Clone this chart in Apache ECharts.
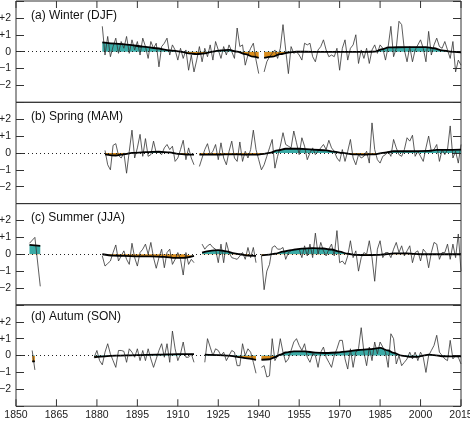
<!DOCTYPE html>
<html>
<head>
<meta charset="utf-8">
<script src="https://cdn.jsdelivr.net/npm/echarts@6/dist/echarts.min.js"></script>
<style>
  html, body { margin: 0; padding: 0; background: #fff; }
  #chart { width: 470px; height: 421px; }
</style>
</head>
<body>
<div id="chart"></div>
<script>
// tick labels
const xTicks = [1850, 1865, 1880, 1895, 1910, 1925, 1940, 1955, 1970, 1985, 2000, 2015]
const titles = ['(a) Winter (DJF)', '(b) Spring (MAM)', '(c) Summer (JJA)', '(d) Autum (SON)']

// annual anomalies, one row per decade, null = missing year
const winterStart = 1880
const winterVals = [
  null, null, 1.5, -0.2, 0.9, -0.3, 0.3, 0.8, -0.1, 0.6,
  0.2, 0.9, -0.1, 0.7, 0.1, 0.6, -0.2, 0.8, 0.3, -0.4,
  0.6, 0.2, 0.5, -0.9, 0.3, 0.5, 0.8, -0.2, 0.4, 0.1,
  -0.5, 0.2, -0.4, 0.1, -1.1, -0.2, -1.2, -0.5, 0.3, -0.6,
  0.2, -0.3, 0.4, -0.5, 0.6, 0.1, -0.4, 0.3, -0.2, 0.4,
  0.0, -0.4, 1.4, 0.3, 0.4, -0.8, -0.2, 0.2, 0.5, -0.5,
  -1.3, null, -1.2, -0.6, -0.3, -0.1, 0.1, -0.4, 0.2, 1.6,
  0.1, -1.3, 0.3, -0.1, 0.0, -0.2, -0.5, 0.5, 0.4, 0.5,
  -0.3, -0.6, 0.1, 0.3, 0.7, 0.1, -0.3, -0.2, -0.3, 0.2,
  -1.1, 0.2, 0.7, -0.5, 0.2, 0.4, 1.0, -0.7, 0.1, -0.4,
  0.2, -0.7, 0.1, 0.4, -0.1, 0.4, 0.2, -0.5, 0.3, 1.5,
  -0.3, 0.2, 1.8, 1.6, 0.1, -0.6, 0.3, -0.6, 0.1, 0.4,
  0.7, 0.2, -0.6, 1.2, -0.2, 0.4, 0.8, 0.3, 0.2, 0.6,
  0.1, -0.4, 0.6, -1.2, -0.5, -0.8,
]
const winterSmoothYears = [1882, 1887, 1892, 1897, 1902, 1907, 1911, 1914, 1917, 1920, 1923, 1926, 1929, 1932, 1935, 1938, 1940, 1941, 1942, 1945, 1948, 1951, 1954, 1960, 1970, 1980, 1983, 1986, 1988, 1995, 2002, 2005, 2008, 2011, 2015]
const winterSmoothVals = [0.55, 0.48, 0.4, 0.3, 0.2, 0.08, 0.0, -0.1, -0.15, -0.1, 0.0, 0.08, 0.1, 0.0, -0.15, -0.3, -0.37, null, -0.37, -0.3, -0.15, -0.05, 0.0, -0.01, -0.01, -0.01, 0.0, 0.15, 0.25, 0.27, 0.27, 0.2, 0.08, 0.0, -0.04]

const springStart = 1880
const springVals = [
  null, null, null, 0.15, -0.7, -1.0, 0.45, 0.55, -0.15, -0.3,
  0.0, -1.2, 0.1, 1.35, -0.3, 0.3, 1.1, -0.2, 0.85, -0.2,
  -0.1, 0.7, 0.0, 0.05, -0.1, 0.3, 0.5, 0.2, 0.4, -0.5,
  -0.3, 0.2, 0.75, -0.4, 0.3, -0.3, -0.7, null, -0.8, -0.3,
  0.2, 0.55, -0.1, 0.1, 0.5, -0.4, 0.6, -0.3, -0.7, 0.1,
  0.7, -0.3, -0.5, 0.65, -0.5, 0.1, -0.3, 0.2, 1.35, 0.2,
  -0.4, -1.0, -0.7, -0.2, 0.3, 0.8, -0.9, -0.2, 0.4, 1.2,
  0.5, 0.4, 0.3, 1.3, 0.6, -0.1, 0.9, 0.4, -0.4, 0.0,
  0.3, -0.1, 0.1, 0.3, 0.5, 0.2, 0.75, 0.3, 0.1, -0.3,
  -0.5, 0.2, -0.5, 0.1, 0.8, -0.3, -0.7, -0.1, -0.3, -0.2,
  0.1, -0.6, 1.78, 0.2, -0.4, -0.6, -0.2, -0.1, 0.1, -0.2,
  0.8, 0.3, -0.1, -0.2, 0.2, 0.9, 0.7, 1.05, -0.2, 0.1,
  -0.2, -0.5, 0.3, 1.0, 0.1, 0.2, 0.5, -0.5, 0.2, -0.1,
  0.2, 1.6, -0.3, 0.1, -0.6, 0.5,
]
const springSmoothYears = [1883, 1887, 1890, 1893, 1898, 1903, 1907, 1910, 1913, 1916, 1917, 1918, 1925, 1930, 1935, 1940, 1942, 1944, 1947, 1950, 1955, 1960, 1965, 1968, 1971, 1975, 1979, 1983, 1986, 1990, 1995, 2003, 2006, 2015]
const springSmoothVals = [-0.08, -0.15, -0.08, 0.0, 0.05, 0.07, 0.03, -0.05, -0.1, -0.1, null, -0.1, -0.1, -0.08, -0.1, -0.1, -0.05, 0.0, 0.15, 0.25, 0.25, 0.2, 0.15, 0.08, 0.0, -0.08, -0.1, -0.08, 0.0, 0.1, 0.1, 0.12, 0.18, 0.2]

const summerEarlyYears = [1855, 1857, 1859]
const summerEarlyVals = [0.65, 1.0, -1.9]
const summerEarlySmoothYears = [1855, 1859]
const summerEarlySmoothVals = [0.55, 0.5]
const summerStart = 1880
const summerVals = [
  null, null, -0.1, -0.7, -0.55, -0.4, 0.1, 0.55, -0.4, -0.1,
  0.2, -0.3, -0.6, 0.65, -0.2, -0.7, 0.1, 0.3, 0.6, 0.0,
  0.7, -0.2, -0.83, -0.2, 0.3, -0.8, 0.1, 0.3, -0.6, -0.3,
  0.1, -0.3, -1.23, 0.1, -0.6, -0.3, -0.5, null, null, 0.6,
  0.3, 0.5, 0.6, 0.4, 0.3, -0.5, 0.6, -0.5, 0.7, 0.1,
  -0.2, -0.25, -0.3, -0.1, 0.1, -0.3, 0.4, -0.2, 0.4, -0.5,
  null, -0.1, -2.1, -1.0, -0.6, 0.4, 0.5, 0.3, 0.3, 0.4,
  -0.3, 0.1, 0.2, 0.3, 0.3, 0.3, -0.2, 0.5, -0.1, 0.6,
  -0.2, 1.25, 0.0, 0.7, 0.2, -0.1, 0.3, 0.6, -0.1, 1.4,
  -0.5, -0.4, -0.6, -0.1, 0.8, -0.2, 0.2, -1.0, -0.2, 0.1,
  0.0, 0.8, -0.2, -1.6, 0.3, 0.8, -0.2, 0.1, 0.1, -0.2,
  0.3, 0.7, 0.1, 0.5, -0.1, 0.2, 0.5, -0.5, 0.1, 0.2,
  -0.4, 0.3, 0.1, -0.8, 0.1, 0.7, 0.6, -0.3, 0.1, 0.1,
  0.6, -0.3, 0.6, -0.2, 1.2, -1.0,
]
const summerSmoothYears = [1882, 1886, 1890, 1895, 1900, 1905, 1909, 1912, 1916, 1917, 1919, 1922, 1925, 1928, 1931, 1933, 1936, 1939, 1940, 1941, 1944, 1946, 1949, 1952, 1956, 1960, 1964, 1967, 1970, 1973, 1976, 1980, 1984, 1987, 1990, 1995, 2000, 2015]
const summerSmoothVals = [0.0, -0.08, -0.1, -0.12, -0.13, -0.15, -0.22, -0.22, -0.1, null, 0.1, 0.2, 0.25, 0.17, 0.05, 0.0, -0.08, -0.1, null, -0.07, -0.02, 0.03, 0.15, 0.25, 0.33, 0.36, 0.34, 0.28, 0.15, 0.03, -0.04, -0.05, -0.04, 0.0, 0.05, 0.05, 0.0, 0.0]

const autumnEarlyYears = [1856, 1857]
const autumnEarlyVals = [0.3, -0.85]
const autumnEarlySmoothYears = [1856, 1857]
const autumnEarlySmoothVals = [-0.35, -0.35]
const autumnStart = 1870
const autumnVals = [
  null, null, null, null, null, null, null, null, null, -0.1,
  0.3, -0.3, -0.55, 0.2, 0.7, 0.1, -0.3, -0.7, 0.3, 0.3,
  0.25, -0.4, 0.4, 0.2, -0.1, 0.4, -0.3, 0.3, -0.3, 0.4,
  -0.2, -0.7, -0.2, 0.3, 0.7, -0.1, 0.7, -0.4, 1.45, 0.4,
  -0.3, 0.1, 0.8, -0.1, -0.1, 0.1, -0.4, null, null, null,
  -0.4, 1.0, 0.5, 0.0, 0.4, 0.3, 0.0, 0.2, -0.3, 0.0,
  0.3, 0.2, -0.6, -0.6, 0.7, 0.0, 0.4, 0.2, -0.4, -1.05,
  null, -0.7, -0.6, -1.27, -1.2, 1.0, -0.3, 0.0, 1.0, 0.2,
  -0.4, -0.2, 0.3, 0.8, 1.0, 0.6, 0.3, 0.7, -0.1, -0.4,
  0.1, 0.0, -0.7, 0.2, 0.5, -0.1, -0.4, -0.7, 0.0, 0.4,
  0.9, 0.9, -0.2, -0.8, 0.4, -0.7, 0.2, 0.4, 1.65, 0.2,
  -0.6, 0.5, -0.3, 0.8, 0.1, 0.8, 0.5, 0.2, -0.7, 1.29,
  1.0, -0.5, 0.0, -0.6, -0.4, -0.2, 0.2, -0.2, 0.2, -0.3,
  0.2, -0.1, -1.0, 0.0, 0.3, 0.6, 1.2, 0.2, 0.0, -0.2,
  -0.3, 0.9, -0.2, 0.0, -0.1, -0.5,
]
const autumnSmoothYears = [1879, 1883, 1887, 1895, 1902, 1910, 1916, 1917, 1920, 1925, 1929, 1932, 1935, 1939, 1940, 1941, 1944, 1946, 1948, 1950, 1953, 1957, 1961, 1965, 1969, 1973, 1977, 1981, 1985, 1988, 1990, 1993, 1996, 1999, 2001, 2003, 2005, 2008, 2015]
const autumnSmoothVals = [-0.1, -0.05, 0.0, 0.03, 0.05, 0.08, 0.08, null, 0.05, 0.03, 0.0, -0.08, -0.15, -0.25, null, -0.25, -0.22, -0.1, 0.05, 0.18, 0.25, 0.25, 0.17, 0.15, 0.18, 0.25, 0.33, 0.38, 0.45, 0.3, 0.16, 0.0, -0.08, -0.08, 0.0, 0.05, 0.02, -0.04, -0.05]

const TEAL = '#3aaba6'
const ORANGE = '#d88c1c'
const numFont = "'Liberation Sans Narrow', 'Liberation Sans', Arial, sans-serif"
const textFont = "'Liberation Sans', Arial, sans-serif"

function annual(start, vals) {
  return vals.map((v, i) => [start + i, v])
}
function pairs(years, vals) {
  return years.map((y, i) => [y, vals[i]])
}

const panels = [
  { raw: annual(winterStart, winterVals), smooth: pairs(winterSmoothYears, winterSmoothVals) },
  { raw: annual(springStart, springVals), smooth: pairs(springSmoothYears, springSmoothVals) },
  {
    raw: pairs(summerEarlyYears, summerEarlyVals).concat(annual(summerStart, summerVals)),
    smooth: pairs(summerEarlySmoothYears, summerEarlySmoothVals).concat([[1860, null]], pairs(summerSmoothYears, summerSmoothVals)),
  },
  {
    raw: pairs(autumnEarlyYears, autumnEarlyVals).concat(annual(autumnStart, autumnVals)),
    smooth: pairs(autumnEarlySmoothYears, autumnEarlySmoothVals).concat([[1858, null]], pairs(autumnSmoothYears, autumnSmoothVals)),
  },
]

const gridTops = [1, 102.3, 203.6, 304.9]
const gridH = 101.3
const titleTops = [10, 111, 212, 311]

var myChart = echarts.init(document.getElementById('chart'))

let grids = [], xAxes = [], yAxes = [], series = [], titleList = [], areaIdx = []

function yLabel(v) {
  if (v === 3 || v === -3) return ''
  if (v > 0) return '+' + v
  if (v < 0) return '\u2212' + (-v)
  return '0'
}

// inward x ticks on the top frame (panel a) and bottom frame (panel d),
// drawn as thin rect symbols placed on the frame through the axes
function edgeTicks(i, edge, dir) {
  return {
    type: 'scatter', xAxisIndex: i, yAxisIndex: i * 2,
    data: xTicks.map((t) => [t, edge]),
    symbol: 'rect', symbolSize: [1, 7], symbolOffset: [0, dir * 3.5],
    itemStyle: { color: '#333', opacity: 1 },
    clip: false, silent: true, z: 6,
  }
}

panels.forEach((p, i) => {
  grids.push({
    left: 16, right: 9, top: gridTops[i], height: gridH,
    outerBoundsMode: 'none',
    show: true, borderColor: '#333', borderWidth: 1, backgroundColor: 'transparent',
  })
  titleList.push({
    text: titles[i], left: 31, top: titleTops[i], padding: 0,
    textStyle: { fontSize: 12, fontWeight: 'normal', fontFamily: textFont, color: '#111' },
  })
  const isBottom = i === panels.length - 1
  xAxes.push({
    type: 'value', gridIndex: i, min: 1850, max: 2015, interval: 15,
    axisLine: { show: false, onZero: false },
    splitLine: { show: false },
    axisTick: { show: false },
    axisLabel: {
      show: isBottom, margin: 3, customValues: xTicks,
      formatter: (v) => String(v),
      fontSize: 10.5, fontFamily: numFont, color: '#222',
    },
  })
  const yBase = {
    type: 'value', gridIndex: i, min: -3, max: 3, interval: 1,
    axisLine: { show: false, onZero: false },
    splitLine: { show: false },
    axisTick: { show: true, inside: true, length: 8, lineStyle: { color: '#333' } },
  }
  yAxes.push(Object.assign({}, yBase, {
    position: 'left',
    axisLabel: { show: true, margin: 5, formatter: yLabel, fontSize: 10.5, fontFamily: numFont, color: '#222' },
  }))
  yAxes.push(Object.assign({}, yBase, { position: 'right', axisLabel: { show: false } }))

  // fill between smoothed curve and zero, coloured by sign
  areaIdx.push(series.length)
  series.push({
    type: 'line', xAxisIndex: i, yAxisIndex: i * 2,
    data: p.smooth, smooth: 0.3, smoothMonotone: 'x', symbol: 'none',
    lineStyle: { width: 0 }, areaStyle: { opacity: 1 },
    silent: true, z: 1,
  })
  // annual values + dotted zero line
  series.push({
    type: 'line', xAxisIndex: i, yAxisIndex: i * 2,
    data: p.raw, symbol: 'none',
    lineStyle: { color: '#333', width: 0.8 },
    silent: true, z: 3,
    markLine: {
      silent: true, symbol: ['none', 'none'], label: { show: false },
      lineStyle: { color: '#222', type: [1, 3], width: 1 },
      data: [{ yAxis: 0 }],
    },
  })
  // smoothed curve
  series.push({
    type: 'line', xAxisIndex: i, yAxisIndex: i * 2,
    data: p.smooth, smooth: 0.3, smoothMonotone: 'x', symbol: 'none',
    lineStyle: { color: '#000', width: 1.8 },
    silent: true, z: 4,
  })
})

series.push(edgeTicks(0, 3, 1))
series.push(edgeTicks(panels.length - 1, -3, -1))

var option = {
  animation: false,
  title: titleList,
  grid: grids,
  xAxis: xAxes,
  yAxis: yAxes,
  visualMap: {
    type: 'piecewise', show: false, dimension: 1, seriesIndex: areaIdx,
    pieces: [
      { gte: -5, lt: 0, color: ORANGE },
      { gte: 0, lte: 5, color: TEAL },
    ],
  },
  series: series,
}

option && myChart.setOption(option)
</script>
</body>
</html>
